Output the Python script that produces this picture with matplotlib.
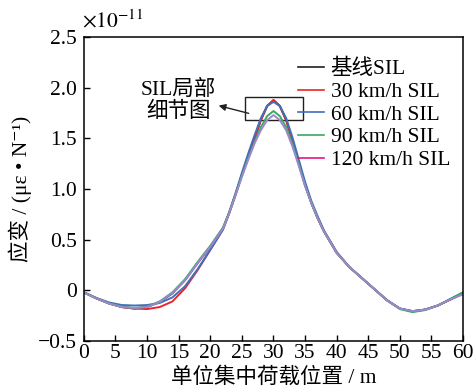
import matplotlib.pyplot as plt
from matplotlib.lines import Line2D
from matplotlib.patches import Rectangle
from matplotlib.ticker import FuncFormatter

plt.rcParams['font.family'] = ['Liberation Serif', 'Noto Sans CJK SC', 'DejaVu Serif']
plt.rcParams['axes.unicode_minus'] = True
plt.rcParams['mathtext.fontset'] = 'stix'

# 荷载位置 (m) 与各工况应变影响线 (×1e-11 με/N)
pos = [0, 2, 4, 6, 8, 10, 12, 14, 16, 18, 20, 22, 23, 24, 25, 26, 27, 28, 29, 30,
       31, 32, 33, 34, 35, 36, 37, 38, 40, 42, 44, 46, 48, 50, 52, 54, 56, 58, 60]

sil_base = [-0.02, -0.08, -0.13, -0.165, -0.18, -0.165, -0.115, -0.03, 0.10, 0.27,
            0.43, 0.61, 0.77, 0.95, 1.14, 1.32, 1.50, 1.68, 1.82, 1.875,
            1.82, 1.68, 1.48, 1.26, 1.04, 0.86, 0.71, 0.58, 0.37, 0.23,
            0.12, 0.01, -0.10, -0.18, -0.207, -0.19, -0.15, -0.09, -0.03]
sil_30 = [-0.02, -0.08, -0.13, -0.165, -0.18, -0.185, -0.165, -0.11, 0.02, 0.20,
          0.40, 0.60, 0.76, 0.94, 1.14, 1.32, 1.50, 1.68, 1.82, 1.88,
          1.82, 1.68, 1.48, 1.26, 1.04, 0.86, 0.71, 0.58, 0.37, 0.23,
          0.12, 0.01, -0.10, -0.18, -0.207, -0.19, -0.15, -0.09, -0.03]
sil_60 = [-0.02, -0.075, -0.12, -0.145, -0.15, -0.145, -0.125, -0.07, 0.04, 0.21,
          0.40, 0.60, 0.77, 0.96, 1.16, 1.35, 1.53, 1.70, 1.82, 1.86,
          1.82, 1.70, 1.51, 1.29, 1.07, 0.88, 0.73, 0.59, 0.38, 0.23,
          0.12, 0.01, -0.10, -0.18, -0.205, -0.19, -0.15, -0.085, -0.02]
sil_90 = [-0.02, -0.08, -0.13, -0.16, -0.175, -0.16, -0.11, -0.02, 0.11, 0.28,
          0.44, 0.62, 0.77, 0.95, 1.13, 1.30, 1.46, 1.61, 1.72, 1.77,
          1.72, 1.61, 1.44, 1.24, 1.03, 0.86, 0.71, 0.58, 0.37, 0.23,
          0.12, 0.01, -0.10, -0.185, -0.215, -0.195, -0.15, -0.085, -0.02]
sil_120 = [-0.02, -0.08, -0.13, -0.165, -0.175, -0.165, -0.115, -0.025, 0.10, 0.27,
           0.43, 0.61, 0.76, 0.94, 1.12, 1.29, 1.45, 1.58, 1.68, 1.73,
           1.68, 1.58, 1.42, 1.23, 1.03, 0.86, 0.71, 0.58, 0.37, 0.23,
           0.12, 0.01, -0.10, -0.18, -0.205, -0.19, -0.15, -0.09, -0.04]

labels = ['基线SIL', '30 km/h SIL', '60 km/h SIL', '90 km/h SIL', '120 km/h SIL']
line_colors = ['#231f20', '#e8262a', '#3f6fbd', '#3aa866', '#9d88cc']
legend_colors = ['#231f20', '#e8262a', '#3f6fbd', '#3aa866', '#e5177f']

fs = 15.5
fig = plt.figure(figsize=(4.74, 3.86), dpi=100)
ax = fig.add_axes([0.177, 0.1166, 0.8, 0.7874])

for ys, c in zip([sil_base, sil_30, sil_60, sil_90, sil_120], line_colors):
    ax.plot(pos, ys, color=c, lw=1.4)

ax.set_xlim(0, 60)
ax.set_ylim(-0.5, 2.5)
ax.set_xticks(range(0, 61, 5))
ax.set_yticks([-0.5, 0, 0.5, 1.0, 1.5, 2.0, 2.5])
ax.yaxis.set_major_formatter(FuncFormatter(
    lambda v, p: '0' if abs(v) < 1e-9 else f'{v:.1f}'.replace('-', '\u2212')))
ax.tick_params(direction='in', length=4, width=1, labelsize=fs)
ax.tick_params(axis='y', pad=5)
ax.tick_params(axis='x', pad=2)
for s in ax.spines.values():
    s.set_linewidth(1.1)

ax.set_xlabel('单位集中荷载位置 / m', fontsize=fs, labelpad=3)
ax.set_ylabel('应变 / (με • N⁻¹)', fontsize=fs, labelpad=4)
ax.text(-0.005, 1.015, r'$\times10^{-11}$', transform=ax.transAxes, fontsize=fs,
        ha='left', va='bottom')

# 峰值局部框与指示箭头
ax.add_patch(Rectangle((25.5, 1.68), 9.15, 0.225, fill=False, ec='#231f20', lw=1.0))
ax.annotate('', xy=(20.9, 1.83), xytext=(26.5, 1.74),
            arrowprops=dict(arrowstyle='-|>', color='#231f20', lw=1.0,
                            mutation_scale=10))
ax.text(14.9, 1.87, 'SIL局部\n细节图', fontsize=fs, ha='center', va='center',
        linespacing=1.15)

handles = [Line2D([], [], color=c, lw=1.2) for c in legend_colors]
ax.legend(handles, labels, loc='upper right', bbox_to_anchor=(1.0, 0.97),
          frameon=False, fontsize=fs, handlelength=1.2, handletextpad=0.3,
          labelspacing=0.12, borderaxespad=0.2)

fig.savefig('out.png', dpi=100)
